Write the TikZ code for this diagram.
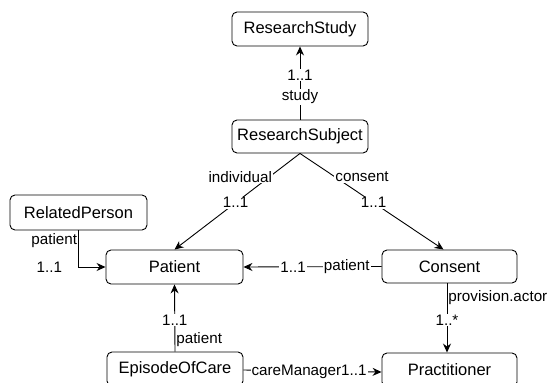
\documentclass[tikz,border=0pt]{standalone}
\usepackage{fontspec}
\setmainfont{Liberation Sans}
\usetikzlibrary{arrows.meta}
\begin{document}
\begin{tikzpicture}[x=1pt,y=-1pt,
  cls/.style={draw=black, line width=0.9pt, rounded corners=5pt, fill=white,
    minimum width=136pt, minimum height=34pt, inner sep=0pt,
    font=\fontsize{16.5}{19}\selectfont},
  lbl/.style={fill=white, inner sep=1pt, font=\fontsize{15.2}{18}\selectfont},
  conn/.style={draw=black, line width=0.9pt,
    -{Stealth[length=9pt,width=8pt,inset=3pt]}}]
\useasboundingbox (0,0) rectangle (555,383);
\fill[white] (0,0) rectangle (555,383);

% classes
\node[cls] (RS)   at (300,29)    {ResearchStudy};
\node[cls, minimum height=33pt] (RSub) at (300,136.5) {ResearchSubject};
\node[cls, minimum width=137pt, minimum height=35pt] (RP) at (78.5,212.5) {RelatedPerson};
\node[cls, minimum width=137pt] (Pat)  at (174.5,267) {Patient};
\node[cls, minimum width=135pt, minimum height=33pt] (Con) at (449.5,266.5) {Consent};
\node[cls] (EoC)  at (175,369)   {EpisodeOfCare};
\node[cls, minimum width=135pt] (Pra) at (449.5,370) {Practitioner};

% references
\draw[conn] (RSub.north) --
  node[lbl, pos=0.31] {study}
  node[lbl, pos=0.61] {1..1} (RS.south);

\draw[conn] (RSub.south) --
  node[lbl, pos=0.244, anchor=east, xshift=4pt] {individual}
  node[lbl, pos=0.513] {1..1} (Pat.north);

\draw[conn] (RSub.south) --
  node[lbl, pos=0.244, anchor=west, xshift=-1pt] {consent}
  node[lbl, pos=0.513] {1..1} ([xshift=-6pt]Con.north);

\draw[conn] (RP.south) |-
  node[lbl, pos=0.135, anchor=east, fill=none] {patient}
  node[lbl, pos=0.5, anchor=east, xshift=-15pt] {1..1} (Pat.west);

\draw[conn] (Con.west) --
  node[lbl, pos=0.252] {patient}
  node[lbl, pos=0.64] {1..1} (Pat.east);

\draw[conn] (EoC.north) --
  node[lbl, pos=0.176, anchor=west, fill=none] {patient}
  node[lbl, pos=0.47] {1..1} (Pat.south);

\draw[conn] ([xshift=-2.5pt]Con.south) --
  node[lbl, pos=0.2, anchor=west, fill=none] {provision.actor}
  node[lbl, pos=0.53] {1..*} ([xshift=-2.5pt]Pra.north);

\draw[conn] ([yshift=-1pt]EoC.east) --
  node[lbl, pos=0.475, yshift=-1pt] {careManager1..1} ([yshift=-2pt]Pra.west);
\end{tikzpicture}
\end{document}
